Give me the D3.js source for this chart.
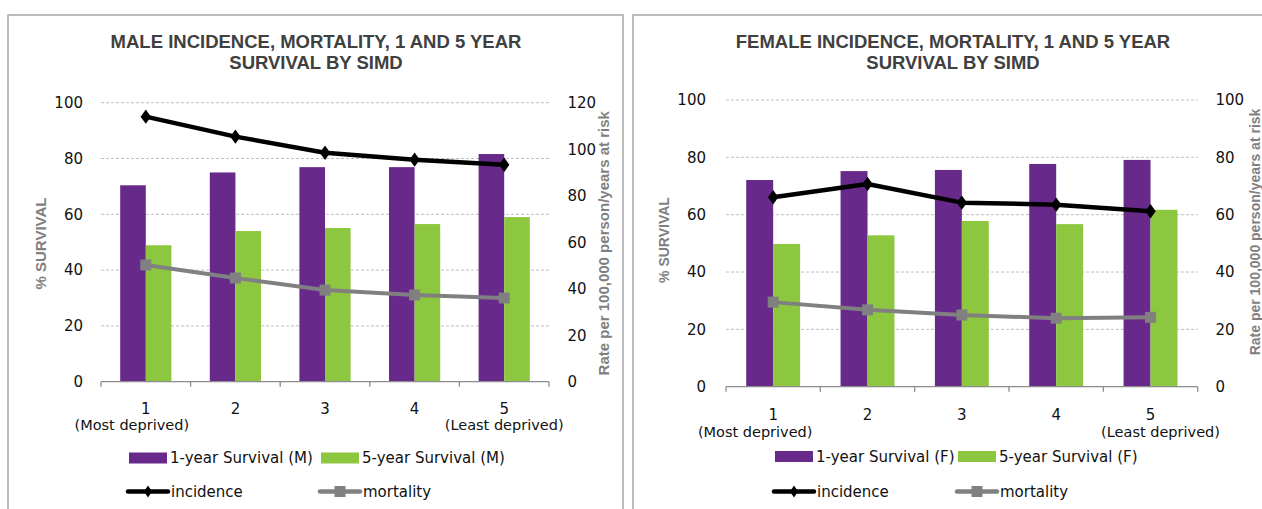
<!DOCTYPE html>
<html>
<head>
<meta charset="utf-8">
<script src="https://cdn.jsdelivr.net/npm/d3@7"></script>
<style>
  html, body { margin: 0; padding: 0; background: #fff; }
  svg { display: block; }
</style>
</head>
<body>
<svg id="chart" width="1262" height="509"></svg>
<script>
// ---------------- DATA ----------------
const categories = ["1", "2", "3", "4", "5"];
const categorySubLabels = ["(Most deprived)", "", "", "", "(Least deprived)"];

const male1YearSurvival = [70.4, 75.0, 76.9, 76.9, 81.6];
const male5YearSurvival = [48.9, 54.0, 55.1, 56.5, 59.0];
const maleIncidence = [114.0, 105.4, 98.5, 95.5, 93.3];
const maleMortality = [50.2, 44.6, 39.4, 37.3, 36.0];

const female1YearSurvival = [72.1, 75.2, 75.6, 77.7, 79.1];
const female5YearSurvival = [49.8, 52.8, 57.8, 56.7, 61.7];
const femaleIncidence = [66.1, 70.7, 64.2, 63.5, 61.2];
const femaleMortality = [29.5, 26.8, 25.0, 23.9, 24.2];

const survivalTicks = [0, 20, 40, 60, 80, 100];
const maleRateTicks = [0, 20, 40, 60, 80, 100, 120];
const femaleRateTicks = [0, 20, 40, 60, 80, 100];

const maleTitle = ["MALE INCIDENCE, MORTALITY, 1 AND 5 YEAR", "SURVIVAL BY SIMD"];
const femaleTitle = ["FEMALE INCIDENCE, MORTALITY, 1 AND 5 YEAR", "SURVIVAL BY SIMD"];
const maleLegend = ["1-year Survival (M)", "5-year Survival (M)", "incidence", "mortality"];
const femaleLegend = ["1-year Survival (F)", "5-year Survival (F)", "incidence", "mortality"];
const leftAxisTitle = "% SURVIVAL";
const rightAxisTitle = "Rate per 100,000 person/years at risk";

// ---------------- STYLE ----------------
const PURPLE = "#67298a";
const GREEN = "#8dc63f";
const BLACK = "#000000";
const GREY = "#808080";
const TICK_FONT = "'DejaVu Sans', sans-serif";
const TITLE_FONT = "'Liberation Sans', Arial, sans-serif";

const svg = d3.select("#chart");

function drawChart(cfg) {
  const g = svg.append("g");

  // panel border
  g.append("rect")
    .attr("x", cfg.panel[0]).attr("y", cfg.panel[1])
    .attr("width", cfg.panel[2]).attr("height", cfg.panel[3])
    .attr("fill", "#fff").attr("stroke", "#a6a6a6").attr("stroke-width", 1.5);

  // title
  cfg.title.forEach((t, i) => {
    g.append("text")
      .attr("x", cfg.titleX).attr("y", cfg.titleY[i])
      .attr("text-anchor", "middle")
      .attr("font-family", TITLE_FONT).attr("font-weight", "bold")
      .attr("font-size", "18.5px").attr("fill", "#404040")
      .text(t);
  });

  const x = d3.scaleBand().domain(categories).range([cfg.x0, cfg.x1]).padding(0);
  const B = x.bandwidth();
  const groupW = B * 2 / 3.5;
  const sub = d3.scaleBand().domain(["one", "five"]).range([0, groupW]).padding(0);
  const yL = d3.scaleLinear().domain([0, 100]).range([cfg.yBottom, cfg.yTop]);
  const yR = d3.scaleLinear().domain([0, d3.max(cfg.rateTicks)]).range([cfg.yBottom, cfg.yTop]);

  // gridlines
  g.append("g").selectAll("line")
    .data(survivalTicks.filter(d => d > 0))
    .join("line")
    .attr("x1", cfg.x0).attr("x2", cfg.x1)
    .attr("y1", d => yL(d)).attr("y2", d => yL(d))
    .attr("stroke", "#bfbfbf").attr("stroke-width", 1)
    .attr("stroke-dasharray", "3,2");

  // bars
  const barData = categories.map((c, i) => ({ c, one: cfg.s1[i], five: cfg.s5[i] }));
  const bg = g.append("g");
  [["one", PURPLE], ["five", GREEN]].forEach(([k, col]) => {
    bg.selectAll("rect." + k).data(barData).join("rect")
      .attr("class", k)
      .attr("x", d => x(d.c) + (B - groupW) / 2 + sub(k))
      .attr("width", sub.bandwidth())
      .attr("y", d => yL(d[k]))
      .attr("height", d => yL(0) - yL(d[k]))
      .attr("fill", col);
  });

  // bottom axis
  const axisG = g.append("g").attr("transform", `translate(0,${cfg.yBottom})`);
  axisG.append("line").attr("x1", cfg.x0).attr("x2", cfg.x1).attr("y1", 0).attr("y2", 0)
    .attr("stroke", "#8c8c8c").attr("stroke-width", 1.3);
  const bounds = categories.map(c => x(c)).concat([cfg.x1]);
  axisG.selectAll("line.tk").data(bounds).join("line").attr("class", "tk")
    .attr("x1", d => d).attr("x2", d => d).attr("y1", 0).attr("y2", 5)
    .attr("stroke", "#8c8c8c").attr("stroke-width", 1.3);

  // category labels
  g.append("g").selectAll("text").data(categories).join("text")
    .attr("x", d => x(d) + B / 2).attr("y", cfg.catY)
    .attr("text-anchor", "middle").attr("font-family", TICK_FONT)
    .attr("font-size", "15px").attr("fill", "#111").text(d => d);
  g.append("g").selectAll("text").data(categorySubLabels).join("text")
    .attr("x", (d, i) => x(categories[i]) + B / 2 + (cfg.subDx[i] || 0)).attr("y", cfg.subY)
    .attr("text-anchor", "middle").attr("font-family", TICK_FONT)
    .attr("font-size", "14.5px").attr("fill", "#111").text(d => d);

  // left axis labels
  const leftAxis = d3.axisLeft(yL).tickValues(survivalTicks).tickSize(0).tickPadding(0);
  const la = g.append("g").attr("transform", `translate(${cfg.leftLabelX},0)`).call(leftAxis);
  la.select(".domain").remove();
  la.selectAll("text").attr("font-family", TICK_FONT).attr("font-size", "15px").attr("fill", "#111");

  const rightAxis = d3.axisRight(yR).tickValues(cfg.rateTicks).tickSize(0).tickPadding(0);
  const ra = g.append("g").attr("transform", `translate(${cfg.rightLabelX},0)`).call(rightAxis);
  ra.select(".domain").remove();
  ra.selectAll("text").attr("font-family", TICK_FONT).attr("font-size", "15px").attr("fill", "#111");

  // axis titles
  g.append("text")
    .attr("transform", `translate(${cfg.leftTitle[0]},${cfg.leftTitle[1]}) rotate(-90)`)
    .attr("dy", "0.36em").attr("text-anchor", "middle")
    .attr("font-family", TITLE_FONT).attr("font-weight", "bold")
    .attr("font-size", cfg.leftTitle[2] + "px").attr("fill", GREY).text(leftAxisTitle);
  g.append("text")
    .attr("transform", `translate(${cfg.rightTitle[0]},${cfg.rightTitle[1]}) rotate(-90)`)
    .attr("dy", "0.36em").attr("text-anchor", "middle")
    .attr("font-family", TITLE_FONT).attr("font-weight", "bold")
    .attr("font-size", cfg.rightTitle[2] + "px").attr("fill", GREY).text(rightAxisTitle);

  // lines
  const line = d3.line().x(d => x(d.c) + B / 2).y(d => yR(d.v));
  const mort = categories.map((c, i) => ({ c, v: cfg.mort[i] }));
  const inc = categories.map((c, i) => ({ c, v: cfg.inc[i] }));

  g.append("path").datum(mort).attr("d", line).attr("fill", "none")
    .attr("stroke", GREY).attr("stroke-width", 4).attr("stroke-linejoin", "round");
  g.append("g").selectAll("rect").data(mort).join("rect")
    .attr("x", d => x(d.c) + B / 2 - 5.5).attr("y", d => yR(d.v) - 5.5)
    .attr("width", 11).attr("height", 11).attr("fill", GREY);

  g.append("path").datum(inc).attr("d", line).attr("fill", "none")
    .attr("stroke", BLACK).attr("stroke-width", 4.5).attr("stroke-linejoin", "round");
  const diamond = d3.symbol().type(d3.symbolDiamond).size(60);
  g.append("g").selectAll("path").data(inc).join("path")
    .attr("d", diamond)
    .attr("transform", d => `translate(${x(d.c) + B / 2},${yR(d.v)}) scale(1.25,1)`)
    .attr("fill", BLACK);

  // legend
  const L = cfg.legend;
  const lg = g.append("g").attr("font-family", TICK_FONT).attr("font-size", "15px").attr("fill", "#111");
  [[L.col1, PURPLE, cfg.legendText[0]], [L.col2, GREEN, cfg.legendText[1]]].forEach(([cx, col, t]) => {
    lg.append("rect").attr("x", cx).attr("y", L.row1 - 5.5).attr("width", 38).attr("height", 11).attr("fill", col);
    lg.append("text").attr("x", cx + 41).attr("y", L.row1 + 5.3).text(t);
  });
  lg.append("line").attr("x1", L.col1 - 1).attr("x2", L.col1 + 39).attr("y1", L.row2).attr("y2", L.row2)
    .attr("stroke", BLACK).attr("stroke-width", 4.5).attr("stroke-linecap", "round");
  lg.append("path").attr("d", d3.symbol().type(d3.symbolDiamond).size(40))
    .attr("transform", `translate(${L.col1 + 19},${L.row2}) scale(1.2,1)`).attr("fill", BLACK);
  lg.append("text").attr("x", L.col1 + 42).attr("y", L.row2 + 5.3).text(cfg.legendText[2]);

  lg.append("line").attr("x1", L.col2 - 1).attr("x2", L.col2 + 39).attr("y1", L.row2).attr("y2", L.row2)
    .attr("stroke", GREY).attr("stroke-width", 4.5).attr("stroke-linecap", "round");
  lg.append("rect").attr("x", L.col2 + 19 - 5.5).attr("y", L.row2 - 5.5).attr("width", 11).attr("height", 11).attr("fill", GREY);
  lg.append("text").attr("x", L.col2 + 42).attr("y", L.row2 + 5.3).text(cfg.legendText[3]);
}

drawChart({
  panel: [8, 15, 615, 600],
  title: maleTitle, titleX: 316, titleY: [47.6, 68.6],
  x0: 101, x1: 549, yTop: 102.7, yBottom: 381.7,
  rateTicks: maleRateTicks,
  s1: male1YearSurvival, s5: male5YearSurvival, inc: maleIncidence, mort: maleMortality,
  catY: 413.8, subY: 430, subDx: [-14, 0, 0, 0, 0],
  leftLabelX: 83, rightLabelX: 567.5,
  leftTitle: [41, 243.5, 15], rightTitle: [604, 243.3, 15],
  legend: { col1: 129, col2: 321, row1: 458, row2: 491.5 },
  legendText: maleLegend
});

drawChart({
  panel: [633, 15, 700, 600],
  title: femaleTitle, titleX: 953, titleY: [47.6, 68.6],
  x0: 726, x1: 1197.7, yTop: 100, yBottom: 386.7,
  rateTicks: femaleRateTicks,
  s1: female1YearSurvival, s5: female5YearSurvival, inc: femaleIncidence, mort: femaleMortality,
  catY: 420.3, subY: 436.5, subDx: [-18, 0, 0, 0, 10],
  leftLabelX: 706, rightLabelX: 1215.5,
  leftTitle: [664, 240, 14], rightTitle: [1254.5, 232, 14],
  legend: { col1: 775, col2: 958, row1: 456.5, row2: 491.5 },
  legendText: femaleLegend
});
</script>
</body>
</html>
